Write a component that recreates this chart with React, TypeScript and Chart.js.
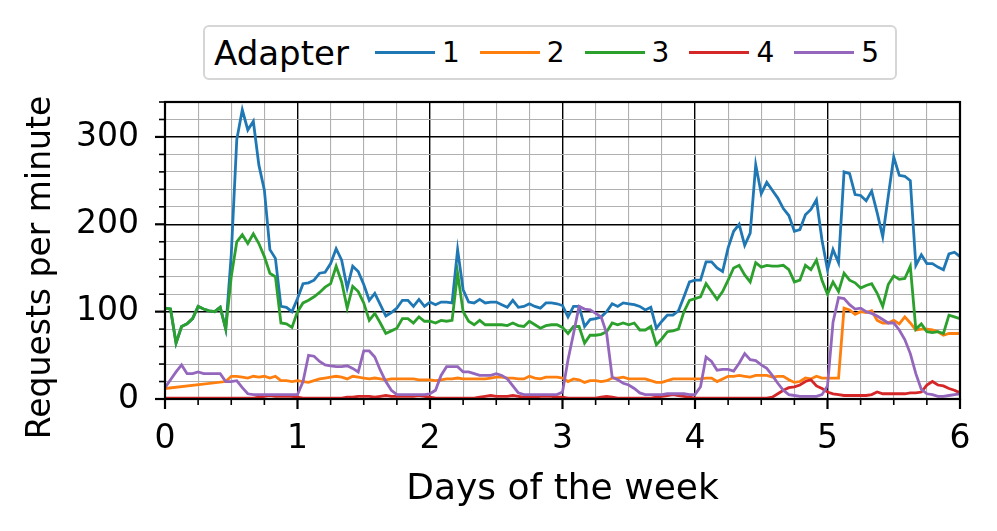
import React, { useEffect, useRef } from "react";
import { Chart, registerables } from "chart.js";

Chart.register(...registerables);

const FONT = "'DejaVu Sans', 'Liberation Sans', sans-serif";

const SERIES_LABELS = ["1", "2", "3", "4", "5"];
const COLORS = ["#1f77b4", "#ff7f0e", "#2ca02c", "#d62728", "#9467bd"];
const SAMPLES_PER_DAY = 24;
const X_TICK_LABELS = [0, 1, 2, 3, 4, 5, 6];
const Y_TICK_LABELS = [0, 100, 200, 300];
const X_MAX = 6;
const Y_MAX = 340;
const Y_TITLE = "Requests per minute";
const X_TITLE = "Days of the week";
const LEGEND_TITLE = "Adapter";

// Hourly samples, 6 days (145 points)
const adapter1 = [
  104, 103, 64, 83, 86, 92, 106, 103, 101, 100, 105, 80,
  165, 297, 331, 308, 318, 268, 239, 171, 161, 106, 105, 100,
  115,
  132, 133, 136, 144, 145, 155, 172, 159, 127, 152, 146, 131, 113, 121, 108, 95, 99, 104, 113, 113, 106, 114, 106, 111,
  108, 111, 111, 110, 171, 125, 111, 110, 114, 110, 111, 111, 108, 105, 113, 105, 106, 109, 106, 104, 110, 110, 109,
  107,
  94, 106, 106, 83, 91, 92, 94, 100, 109, 106, 110, 109, 108, 106, 102, 105, 81, 89, 96, 96, 101, 117, 134, 136,
  136, 157, 157, 150, 146, 173, 192, 200, 176, 190, 268, 235, 248, 239, 230, 218, 210, 192, 194, 211, 217, 228, 182, 148,
  171, 156, 260, 258, 234, 233, 227, 238, 213, 186, 232, 277, 256, 255, 250, 153, 165, 155, 155, 151, 148, 166, 168, 163,
];

const adapter2 = [
  12, null, null, null, null, null, null, null, null, null, null, 20,
  26, 26, 25, 24, 26, 25, 26, 24, 26, 21, 21, 20,
  21,
  20, 19, 21, 23, 24, 25, 26, 25, 23, 26, 25, 24, 23, 24, 23, 22, 23, 23, 23, 23, 23, 22, 22, 22,
  21, 22, 23, 23, 24, 23, 23, 23, 23, 23, 24, 25, 25, 24, 24, 23, 23, 26, 24, 23, 25, 25, 25, 24,
  20, 23, 22, 19, 21, 21, 20, 21, 24, 24, 25, 23, 23, 23, 23, 21, 19, 19, 21, 23, 23, 23, 23, 23,
  23, 24, 24, 20, 23, 26, 26, 27, 26, 25, 27, 27, 27, 25, 26, 26, 22, 19, 20, 24, 23, 26, 24, 24,
  24, 24, 104, 102, 97, 100, 99, 101, 90, 87, 87, 90, 86, 94, 87, 79, 80, 80, 79, 77, 73, 75, 75, 75,
];

const adapter3 = [
  104, 103, 64, 83, 86, 92, 106, 103, 101, 100, 105, 80,
  140, 180, 188, 178, 189, 178, 163, 144, 140, 87, 86, 82,
  100,
  110, 113, 117, 122, 128, 132, 152, 134, 104, 129, 123, 110, 90, 98, 87, 75, 78, 81, 92, 92, 87, 94, 89, 89,
  87, 90, 89, 90, 144, 100, 89, 85, 90, 85, 85, 85, 85, 84, 87, 84, 83, 89, 85, 81, 84, 85, 85,
  82,
  75, 83, 83, 64, 73, 73, 74, 77, 87, 85, 87, 85, 87, 79, 79, 83, 62, 69, 77, 78, 80, 100, 113,
  115,
  117, 132, 123, 114, 123, 136, 150, 153, 142, 134, 156, 151, 153, 152, 152, 153, 148, 134, 136, 153, 148, 159, 136,
  120,
  134, 123, 144, 136, 133, 127, 130, 132, 121, 106, 131, 141, 137, 138, 152, 80, 86, 77, 76, 77, 75, 96, 94, 92,
];

const adapter4 = [
  1, 1, 1, 1, 1, 1, 1, 1, 1, 1, 1, 1, 1, 1, 1, 1, 1, 2, 3, 4, 3, 3, 3, 3, 2,
  1, 1, 1, 1, 1, 1, 1, 1, 2, 2, 3, 3, 3, 2, 3, 4, 3, 3, 3, 3, 3, 4, 3, 2,
  1, 1, 1, 1, 1, 1, 1, 1, 2, 3, 4, 3, 3, 3, 4, 3, 2, 2, 2, 3, 3, 3, 2, 2,
  1, 1, 1, 1, 1, 1, 2, 3, 2, 1, 1, 1, 1, 1, 1, 1, 2, 3, 4, 5, 4, 3, 2, 1,
  1, 1, 1, 1, 1, 1, 1, 1, 1, 1, 1, 1, 1, 2, 6, 10, 13, 14, 16, 20, 22, 15, 12, 8,
  6, 5, 4, 4, 4, 4, 4, 5, 8, 6, 6, 6, 6, 6, 7, 7, 8, 16, 20, 16, 15, 12, 10, 7,
];

const adapter5 = [
  13, 22, 31, 39, 29, 29, 31, 29, 29, 29, 29, 20, 20, 21, 13, 6, 5, 5, 5, 5, 5, 5, 5, 5, 5,
  20, 50, 49, 43, 39, 38, 37, 37, 38, 35, 31, 55, 55, 48, 33, 20, 10, 5, 5, 5, 5, 5, 5, 6,
  10, 27, 37, 37, 37, 31, 31, 29, 27, 27, 27, 29, 27, 23, 15, 7, 5, 5, 5, 5, 5, 5, 5,
  8,
  45, 75, 106, 103, 102, 98, 94, 75, 25, 22, 18, 16, 12, 7, 5, 5, 5, 5, 6, 6, 6, 6, 5, 5,
  14, 48, 43, 33, 34, 34, 32, 41, 52, 45, 44, 39, 35, 27, 18, 10, 5, 4, 3, 3, 3, 3, 5,
  15,
  88, 116, 115, 108, 103, 104, 100, 98, 95, 91, 87, 87, 79, 68, 52, 29, 11, 6, 5, 3, 3, 4, 5, 6,
];

const SERIES = [adapter1, adapter2, adapter3, adapter4, adapter5];

const isMajorX = (v: number) => X_TICK_LABELS.includes(Math.round(v * 1000) / 1000);
const isMajorY = (v: number) => Y_TICK_LABELS.includes(Math.round(v));

const framePlugin = {
  id: "frameTicks",
  afterDatasetsDraw(chart: any) {
    const { ctx, chartArea: a, scales } = chart;
    ctx.save();
    ctx.strokeStyle = "#000";
    const xs = scales.x;
    xs.ticks.forEach((t: any) => {
      const px = xs.getPixelForValue(t.value);
      const major = isMajorX(t.value);
      ctx.lineWidth = major ? 2.2 : 1.6;
      ctx.beginPath();
      ctx.moveTo(px, a.bottom);
      ctx.lineTo(px, a.bottom + (major ? 10 : 6));
      ctx.stroke();
    });
    const ys = scales.y;
    ys.ticks.forEach((t: any) => {
      const py = ys.getPixelForValue(t.value);
      const major = isMajorY(t.value);
      ctx.lineWidth = major ? 2.2 : 1.6;
      ctx.beginPath();
      ctx.moveTo(a.left, py);
      ctx.lineTo(a.left - (major ? 10 : 6), py);
      ctx.stroke();
    });
    ctx.lineWidth = 2.2;
    ctx.strokeRect(a.left, a.top, a.right - a.left, a.bottom - a.top);

    // y-axis title
    ctx.fillStyle = "#000";
    ctx.font = `33px ${FONT}`;
    ctx.textAlign = "center";
    ctx.textBaseline = "middle";
    ctx.translate(41, (a.top + a.bottom) / 2 + 17);
    ctx.rotate(-Math.PI / 2);
    ctx.fillText(Y_TITLE, 0, 0);
    ctx.restore();
  },
};

export default function App() {
  const canvasRef = useRef<HTMLCanvasElement | null>(null);

  useEffect(() => {
    const canvas = canvasRef.current;
    if (!canvas) return;
    const datasets = SERIES.map((values, i) => ({
      label: SERIES_LABELS[i],
      data: values.map((v, j) => ({ x: j / SAMPLES_PER_DAY, y: v })),
      borderColor: COLORS[i],
      backgroundColor: COLORS[i],
      borderWidth: 2.8,
      pointRadius: 0,
      tension: 0,
      spanGaps: true,
      order: SERIES.length - 1 - i,
    }));

    const chart = new Chart(canvas, {
      type: "line",
      data: { datasets },
      options: {
        responsive: false,
        animation: false,
        devicePixelRatio: 1,
        layout: { padding: { left: 0, right: 37, top: 102, bottom: 0 } },
        plugins: { legend: { display: false }, tooltip: { enabled: false } },
        scales: {
          x: {
            type: "linear",
            min: 0,
            max: X_MAX,
            afterFit: (s: any) => {
              s.height = 132;
              s.paddingLeft = 0;
              s.paddingRight = 0;
            },
            border: { display: false },
            grid: {
              drawTicks: false,
              color: (c: any) => (isMajorX(c.tick.value) ? "#000000" : "#b0b0b0"),
              lineWidth: (c: any) => (isMajorX(c.tick.value) ? 1.4 : 1.1),
            },
            ticks: {
              stepSize: 0.25,
              maxTicksLimit: 100,
              autoSkip: false,
              maxRotation: 0,
              padding: 21,
              color: "#000",
              font: { family: FONT, size: 33 },
              callback: (v: any) => (isMajorX(Number(v)) ? String(Math.round(Number(v))) : ""),
            },
            title: {
              display: true,
              text: X_TITLE,
              color: "#000",
              font: { family: FONT, size: 36 },
              padding: { top: 0, bottom: 20 },
            },
          },
          y: {
            type: "linear",
            min: 0,
            max: Y_MAX,
            afterFit: (s: any) => { s.width = 165; },
            border: { display: false },
            grid: {
              drawTicks: false,
              color: (c: any) => (isMajorY(c.tick.value) ? "#000000" : "#b0b0b0"),
              lineWidth: (c: any) => (isMajorY(c.tick.value) ? 1.4 : 1.1),
            },
            ticks: {
              stepSize: 20,
              maxTicksLimit: 100,
              autoSkip: false,
              padding: 26,
              color: "#000",
              font: { family: FONT, size: 33 },
              callback: (v: any) => (isMajorY(Number(v)) ? String(Math.round(Number(v))) : ""),
            },
            title: { display: false },
          },
        },
      },
      plugins: [framePlugin],
    });
    return () => chart.destroy();
  }, []);

  return (
    <div style={{ position: "fixed", left: 0, top: 0, width: 997, height: 531, background: "#fff" }}>
      <canvas ref={canvasRef} width={997} height={531} style={{ display: "block", width: 997, height: 531 }} />
      <div
        style={{
          position: "absolute",
          left: 203,
          top: 25,
          width: 694,
          height: 55,
          boxSizing: "border-box",
          border: "2.5px solid #d6d6d6",
          borderRadius: 6,
          background: "#fff",
          display: "flex",
          alignItems: "center",
          fontFamily: FONT,
          color: "#000",
          whiteSpace: "nowrap",
        }}
      >
        <span style={{ fontSize: 34, marginLeft: 9, lineHeight: "40px" }}>{LEGEND_TITLE}</span>
        {SERIES_LABELS.map((label, i) => (
          <span key={label} style={{ display: "flex", alignItems: "center", marginLeft: i === 0 ? 26 : 20 }}>
            <span style={{ display: "inline-block", width: 60, height: 3, background: COLORS[i] }} />
            <span style={{ fontSize: 28, marginLeft: 7, lineHeight: "34px" }}>{label}</span>
          </span>
        ))}
      </div>
    </div>
  );
}
